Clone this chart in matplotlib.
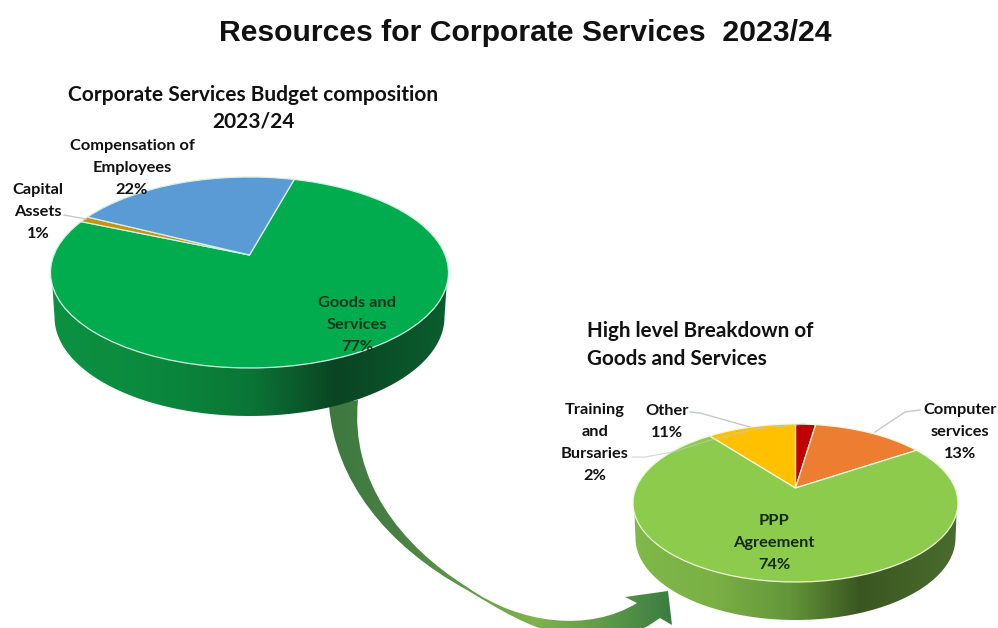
import numpy as np
import matplotlib
matplotlib.use('Agg')
import matplotlib.pyplot as plt
from matplotlib.colors import LinearSegmentedColormap
from matplotlib.patches import PathPatch
from matplotlib.path import Path
from matplotlib.transforms import Transform

# top pie
budget_labels = ['Goods and\nServices\n77%', 'Capital\nAssets\n1%', 'Compensation of\nEmployees\n22%']
budget_values = [77, 1, 22]
budget_colors = ['#00ac4e', '#c8920e', '#5b9bd5']

# lower pie, the slices are a bit off the rounded labels
goods_labels = ['Training\nand\nBursaries\n2%', 'Computer\nservices\n13%', 'PPP\nAgreement\n74%', 'Other\n11%']
goods_values = [2.4, 13.4, 73.6, 10.6]
goods_colors = ['#c00000', '#ed7d31', '#8ccb4b', '#ffc000']

plt.rcParams['font.family'] = ['Lato', 'DejaVu Sans']

fig = plt.figure(figsize=(9.98, 6.28), dpi=100)
ax = fig.add_axes([0, 0, 1, 1])


# the pies are tilted, so the apex is not the middle of the ellipse
class Tilt(Transform):
    input_dims = 2
    output_dims = 2

    def __init__(self, cx, apex_y, half_w, top, bottom):
        super().__init__()
        up = apex_y - top
        down = bottom - apex_y
        self.c = (down - up) / (down + up)
        self.a = up * (1 + self.c)
        self.k = half_w * np.sqrt(1 - self.c ** 2)
        self.cx = cx
        self.apex_y = apex_y

    def transform_non_affine(self, values):
        u, v = values[:, 0], values[:, 1]
        w = 1 + self.c * v
        return np.column_stack([self.cx + self.k * u / w, self.apex_y - self.a * v / w])


def draw_pie(values, colors, start, edge, cx, apex_y, half_w, top, bottom, wall, wall_colors):
    # wall first, gradient image clipped to the lower outline
    mid = (top + bottom) / 2
    lo_cy, lo_h, lo_w = wall
    t = np.linspace(np.pi, 0, 120)
    outline = np.vstack([
        [[cx - half_w + 1, mid]],
        np.column_stack([cx + lo_w * np.cos(t), lo_cy + lo_h * np.sin(t)]),
        [[cx + half_w - 1, mid]],
    ])
    cmap = LinearSegmentedColormap.from_list('wall', wall_colors)
    im = ax.imshow(np.linspace(0, 1, 256)[None, :], cmap=cmap, aspect='auto',
                   extent=(cx - half_w, cx + half_w, lo_cy + lo_h, mid))
    im.set_clip_path(PathPatch(Path(outline), transform=ax.transData))

    wedges, _ = ax.pie(values, colors=colors, startangle=start, counterclock=False,
                       wedgeprops={'edgecolor': edge, 'linewidth': 0.9})
    tilt = Tilt(cx, apex_y, half_w, top, bottom)
    for w in wedges:
        w.set_transform(tilt + ax.transData)


# curved arrow between the pies, drawn first so the wall hides its start
arrow_path = Path(
    [(329, 405), (358, 400),
     (350, 480), (400, 545), (467, 587),
     (520, 625), (590, 632), (637, 603),
     (625, 597), (668, 591), (672, 625), (660, 618),
     (648, 626), (632, 634), (600, 640), (560, 634),
     (530, 628), (500, 610), (467, 590),
     (385, 545), (335, 480), (329, 405), (329, 405)],
    [Path.MOVETO, Path.LINETO,
     Path.CURVE4, Path.CURVE4, Path.CURVE4,
     Path.CURVE4, Path.CURVE4, Path.CURVE4,
     Path.LINETO, Path.LINETO, Path.LINETO, Path.LINETO,
     Path.LINETO, Path.LINETO, Path.LINETO, Path.LINETO,
     Path.CURVE4, Path.CURVE4, Path.CURVE4,
     Path.CURVE4, Path.CURVE4, Path.CURVE4, Path.CLOSEPOLY])
arrow_cmap = LinearSegmentedColormap.from_list(
    'arrow', ['#3c7a40', '#4a7f44', '#5f9a48', '#7fb34c', '#5f9c48', '#3b7c42'])
arrow_img = ax.imshow(np.linspace(0, 1, 256)[None, :], cmap=arrow_cmap, aspect='auto',
                      extent=(329, 672, 640, 400))
arrow_img.set_clip_path(PathPatch(arrow_path, transform=ax.transData))

draw_pie(budget_values, budget_colors, 74.4, '#d4f2e4', 249.5, 255, 199, 177, 368,
         (317, 99, 195),
         [(0, '#0c9143'), (0.25, '#0b8a3e'), (0.5, '#0a7636'), (0.72, '#0a4423'), (1, '#0b5e2e')])
draw_pie(goods_values, goods_colors, 90, '#eef8dc', 795.5, 488, 162.5, 424, 582,
         (538, 82, 160),
         [(0, '#80b84a'), (0.25, '#7ab044'), (0.48, '#64963a'), (0.7, '#3a5620'), (1, '#4a6c2e')])

# leader lines
leader = '#c4c8c8'
ax.plot([64, 86], [215, 219], color=leader, lw=1)
ax.plot([920, 905, 875], [410, 412, 432], color=leader, lw=1)
ax.plot([690, 700, 750], [412, 413, 427], color=leader, lw=1)
ax.plot([632, 645, 673, 711, 755, 805], [457, 457, 452, 440, 429, 424], color=leader, lw=0.8, alpha=0.7)

ax.set_aspect('auto')
ax.set_xlim(0, 998)
ax.set_ylim(628, 0)
ax.axis('off')

ax.text(525, 33, 'Resources for Corporate Services  2023/24', fontsize=21.7, fontweight='bold',
        family=['Liberation Sans', 'DejaVu Sans'], ha='center', va='center', color='#111111')
ax.text(253, 108, 'Corporate Services Budget composition\n2023/24', fontsize=15.05, fontweight='bold',
        ha='center', va='center', linespacing=1.42, color='#111111')
ax.text(587, 345, 'High level Breakdown of\nGoods and Services', fontsize=14.9, fontweight='bold',
        ha='left', va='center', linespacing=1.5, color='#111111')


def label(x, y, s, color='#111111'):
    ax.text(x, y, s, fontsize=11.8, fontweight='bold', ha='center', va='center',
            linespacing=1.72, color=color)


label(357, 325, budget_labels[0], '#06351a')
label(38, 212, budget_labels[1])
label(132, 168, budget_labels[2])
label(595, 443, goods_labels[0])
label(667, 422, goods_labels[3])
label(960, 432, goods_labels[1])
label(774, 543, goods_labels[2], '#122c0a')

fig.savefig('out.png', dpi=100)
